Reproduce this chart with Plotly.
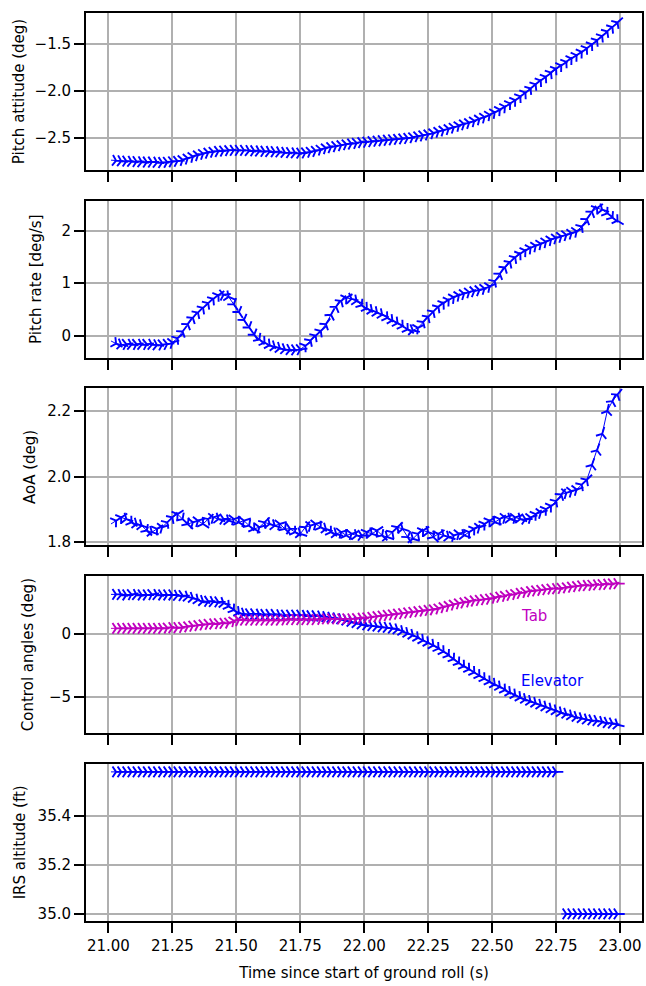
import numpy as np
import plotly.graph_objects as go

# sample time base (s since start of ground roll)
t_start = 21.01
t_step = 0.02
n_samples = 100
time_s = np.round(t_start + t_step * np.arange(n_samples), 2)

pitch_attitude = [
    -2.74, -2.745, -2.75, -2.75, -2.755, -2.755, -2.76, -2.76, -2.76, -2.765,
    -2.765, -2.76, -2.755, -2.75, -2.735, -2.72, -2.70, -2.685, -2.67, -2.66,
    -2.65, -2.645, -2.64, -2.635, -2.635, -2.635, -2.635, -2.64, -2.64, -2.645,
    -2.645, -2.65, -2.65, -2.655, -2.66, -2.66, -2.665, -2.665, -2.66, -2.65,
    -2.64, -2.625, -2.61, -2.60, -2.59, -2.58, -2.57, -2.565, -2.555, -2.55,
    -2.545, -2.54, -2.535, -2.53, -2.525, -2.52, -2.515, -2.51, -2.505, -2.495,
    -2.485, -2.475, -2.465, -2.45, -2.435, -2.42, -2.405, -2.39, -2.37, -2.355,
    -2.34, -2.32, -2.30, -2.28, -2.255, -2.23, -2.20, -2.17, -2.135, -2.10,
    -2.06, -2.02, -1.975, -1.93, -1.89, -1.85, -1.805, -1.765, -1.73, -1.69,
    -1.655, -1.62, -1.585, -1.545, -1.505, -1.46, -1.415, -1.365, -1.32, -1.27,
]

pitch_rate = [
    -0.10, -0.15, -0.17, -0.16, -0.17, -0.16, -0.17, -0.16, -0.17, -0.18,
    -0.17, -0.16, -0.13, -0.05, 0.08, 0.22, 0.34, 0.44, 0.53, 0.62,
    0.70, 0.77, 0.78, 0.74, 0.60, 0.45, 0.30, 0.16, 0.02, -0.07,
    -0.13, -0.18, -0.21, -0.24, -0.26, -0.27, -0.27, -0.26, -0.19, -0.09,
    0.00, 0.09, 0.22, 0.40, 0.55, 0.66, 0.72, 0.70, 0.66, 0.58,
    0.52, 0.48, 0.44, 0.40, 0.34, 0.29, 0.24, 0.18, 0.12, 0.10,
    0.15, 0.26, 0.36, 0.46, 0.55, 0.62, 0.68, 0.73, 0.77, 0.80,
    0.83, 0.85, 0.87, 0.90, 0.94, 1.04, 1.18, 1.30, 1.40, 1.49,
    1.56, 1.62, 1.67, 1.71, 1.75, 1.79, 1.83, 1.86, 1.89, 1.92,
    1.95, 1.99, 2.08, 2.22, 2.36, 2.43, 2.40, 2.33, 2.25, 2.19,
]

aoa = [
    1.855, 1.865, 1.875, 1.870, 1.860, 1.855, 1.850, 1.835, 1.830, 1.840,
    1.845, 1.860, 1.875, 1.885, 1.870, 1.855, 1.860, 1.865, 1.855, 1.870,
    1.875, 1.870, 1.870, 1.865, 1.870, 1.860, 1.865, 1.850, 1.840, 1.845,
    1.860, 1.855, 1.850, 1.855, 1.840, 1.840, 1.830, 1.825, 1.845, 1.850,
    1.855, 1.845, 1.840, 1.830, 1.825, 1.830, 1.820, 1.825, 1.820, 1.820,
    1.830, 1.825, 1.835, 1.820, 1.815, 1.830, 1.845, 1.840, 1.815, 1.810,
    1.825, 1.835, 1.830, 1.815, 1.825, 1.820, 1.815, 1.820, 1.825, 1.820,
    1.830, 1.840, 1.845, 1.855, 1.865, 1.860, 1.870, 1.875, 1.870, 1.875,
    1.870, 1.870, 1.875, 1.885, 1.890, 1.900, 1.910, 1.925, 1.945, 1.950,
    1.955, 1.960, 1.975, 1.990, 2.035, 2.080, 2.130, 2.200, 2.230, 2.250,
]

elevator = [
    3.15, 3.15, 3.10, 3.10, 3.15, 3.10, 3.10, 3.10, 3.15, 3.10,
    3.10, 3.10, 3.10, 3.05, 3.05, 2.95, 2.85, 2.70, 2.60, 2.60,
    2.55, 2.55, 2.45, 2.20, 1.90, 1.70, 1.60, 1.60, 1.60, 1.55,
    1.55, 1.55, 1.55, 1.50, 1.50, 1.50, 1.50, 1.50, 1.45, 1.45,
    1.45, 1.40, 1.35, 1.30, 1.25, 1.15, 1.05, 0.95, 0.85, 0.75,
    0.70, 0.65, 0.60, 0.55, 0.50, 0.45, 0.35, 0.20, 0.05, -0.10,
    -0.30, -0.50, -0.70, -0.90, -1.15, -1.40, -1.70, -2.00, -2.30, -2.55,
    -2.80, -3.05, -3.30, -3.55, -3.80, -4.00, -4.20, -4.45, -4.65, -4.85,
    -5.05, -5.20, -5.35, -5.50, -5.65, -5.80, -5.95, -6.10, -6.25, -6.35,
    -6.50, -6.60, -6.70, -6.80, -6.85, -6.90, -7.00, -7.05, -7.10, -7.20,
]

tab = [
    0.45, 0.45, 0.45, 0.45, 0.45, 0.45, 0.45, 0.45, 0.45, 0.45,
    0.45, 0.50, 0.50, 0.50, 0.55, 0.60, 0.65, 0.70, 0.75, 0.80,
    0.80, 0.85, 0.85, 0.90, 1.05, 1.10, 1.10, 1.10, 1.10, 1.10,
    1.10, 1.10, 1.10, 1.10, 1.15, 1.15, 1.15, 1.15, 1.15, 1.15,
    1.15, 1.20, 1.20, 1.20, 1.20, 1.20, 1.20, 1.20, 1.25, 1.25,
    1.30, 1.35, 1.40, 1.45, 1.50, 1.55, 1.60, 1.65, 1.70, 1.75,
    1.80, 1.85, 1.90, 1.95, 2.05, 2.15, 2.25, 2.35, 2.45, 2.50,
    2.60, 2.65, 2.70, 2.75, 2.80, 2.90, 2.95, 3.05, 3.10, 3.20,
    3.25, 3.35, 3.40, 3.45, 3.50, 3.55, 3.60, 3.60, 3.65, 3.70,
    3.75, 3.80, 3.85, 3.85, 3.90, 3.90, 3.95, 3.95, 4.00, 4.00,
]

irs_altitude = [
    35.58, 35.58, 35.58, 35.58, 35.58, 35.58, 35.58, 35.58, 35.58, 35.58,
    35.58, 35.58, 35.58, 35.58, 35.58, 35.58, 35.58, 35.58, 35.58, 35.58,
    35.58, 35.58, 35.58, 35.58, 35.58, 35.58, 35.58, 35.58, 35.58, 35.58,
    35.58, 35.58, 35.58, 35.58, 35.58, 35.58, 35.58, 35.58, 35.58, 35.58,
    35.58, 35.58, 35.58, 35.58, 35.58, 35.58, 35.58, 35.58, 35.58, 35.58,
    35.58, 35.58, 35.58, 35.58, 35.58, 35.58, 35.58, 35.58, 35.58, 35.58,
    35.58, 35.58, 35.58, 35.58, 35.58, 35.58, 35.58, 35.58, 35.58, 35.58,
    35.58, 35.58, 35.58, 35.58, 35.58, 35.58, 35.58, 35.58, 35.58, 35.58,
    35.58, 35.58, 35.58, 35.58, 35.58, 35.58, 35.58, 35.58, 35.00, 35.00,
    35.00, 35.00, 35.00, 35.00, 35.00, 35.00, 35.00, 35.00, 35.00, 35.00,
]

y_titles = ["Pitch attitude (deg)", "Pitch rate [deg/s]", "AoA (deg)",
            "Control angles (deg)", "IRS altitude (ft)"]
x_title = "Time since start of ground roll (s)"
x_ticks = [21.0, 21.25, 21.5, 21.75, 22.0, 22.25, 22.5, 22.75, 23.0]
y_ticks = [
    [-2.5, -2.0, -1.5],
    [0, 1, 2],
    [1.8, 2.0, 2.2],
    [-5, 0],
    [35.0, 35.2, 35.4],
]
y_fmt = [".1f", "d", ".1f", "d", ".1f"]
y_ranges = [[-2.845, -1.169], [-0.419, 2.571], [1.7896, 2.269],
            [-7.865, 4.6], [34.972, 35.613]]
x_range = [20.9124, 23.0857]
title_standoff = [6, 16, 8, 12, 8]

BLUE = "#0000ff"
MAGENTA = "#bf00bf"
FONT = "DejaVu Sans"

fig = go.Figure()


def add_series(x, y, color, k):
    ax = "" if k == 0 else str(k + 1)
    fig.add_trace(go.Scatter(
        x=list(x), y=list(y), mode="lines+markers",
        line=dict(color=color, width=1),
        marker=dict(symbol="y-up", size=9, angleref="previous",
                    color=color, line=dict(color=color, width=1.9)),
        xaxis="x" + ax, yaxis="y" + ax, showlegend=False,
        hoverinfo="skip",
    ))


add_series(time_s, pitch_attitude, BLUE, 0)
add_series(time_s, pitch_rate, BLUE, 1)
add_series(time_s, aoa, BLUE, 2)
add_series(time_s, elevator, BLUE, 3)
add_series(time_s, tab, MAGENTA, 3)
split = 88
add_series(time_s[:split], irs_altitude[:split], BLUE, 4)
add_series(time_s[split:], irs_altitude[split:], BLUE, 4)

# layout geometry (px)
W, H = 646, 986
ml, mr, mt, mb = 86, 2, 13, 65
plot_h = H - mt - mb
panel_tops = [13, 200.7, 388.4, 576.1, 763.8]
panel_h = 157

axis_common = dict(
    showline=True, linecolor="black", linewidth=2, mirror=True,
    ticks="outside", ticklen=10, tickwidth=2, tickcolor="black",
    showgrid=True, gridcolor="#b0b0b0", gridwidth=2, zeroline=False,
    tickfont=dict(family=FONT, size=15, color="black"),
)

for k in range(5):
    ax = "" if k == 0 else str(k + 1)
    top = panel_tops[k]
    bot = top + panel_h
    d0 = max(0.0, (H - mb - bot) / plot_h)
    d1 = min(1.0, (H - mb - top) / plot_h)
    fig.layout["xaxis" + ax] = dict(
        axis_common, range=x_range, tickvals=x_ticks, tickformat=".2f",
        anchor="y" + ax, domain=[0, 1], showticklabels=(k == 4),
        title=dict(text=x_title if k == 4 else "",
                   font=dict(family=FONT, size=15, color="black"), standoff=14),
    )
    fig.layout["yaxis" + ax] = dict(
        axis_common, range=y_ranges[k], tickvals=y_ticks[k],
        tickformat=y_fmt[k], anchor="x" + ax, domain=[d0, d1],
        title=dict(text=y_titles[k],
                   font=dict(family=FONT, size=15, color="black"),
                   standoff=title_standoff[k]),
    )

fig.add_annotation(x=22.603, y=1.43, xref="x4", yref="y4", text="Tab",
                   showarrow=False, xanchor="left", yanchor="middle",
                   font=dict(family=FONT, size=15, color=MAGENTA))
fig.add_annotation(x=22.603, y=-3.73, xref="x4", yref="y4", text="Elevator",
                   showarrow=False, xanchor="left", yanchor="middle",
                   font=dict(family=FONT, size=15, color=BLUE))

fig.update_layout(
    width=W, height=H, margin=dict(l=ml, r=mr, t=mt, b=mb, pad=0),
    paper_bgcolor="white", plot_bgcolor="white",
    font=dict(family=FONT, size=15, color="black"),
)

fig.write_html("out.html")
